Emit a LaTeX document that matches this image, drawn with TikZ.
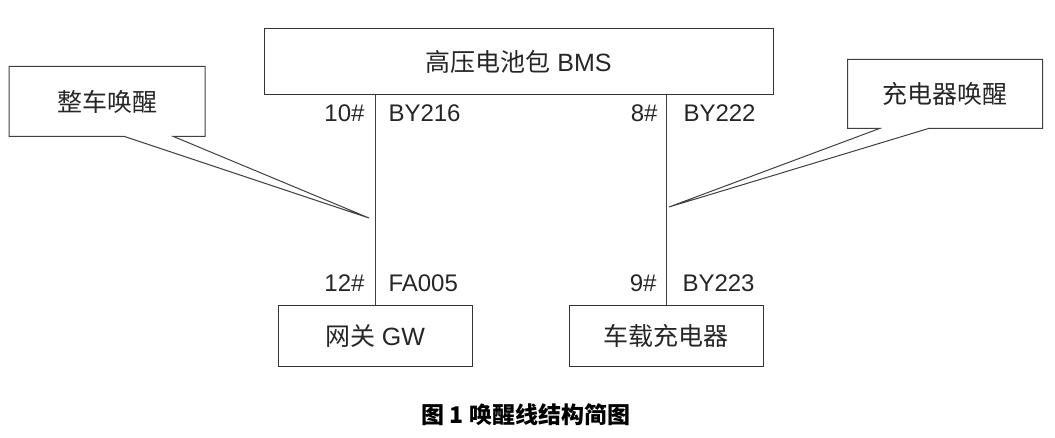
\documentclass[tikz,border=0pt]{standalone}
\usepackage{fontspec}
\setmainfont{Liberation Sans}
\newfontfamily\cjk{Noto Sans CJK SC}
\usetikzlibrary{calc}

\begin{document}
\begin{tikzpicture}[x=1pt, y=-1pt, line width=1pt, black!85,
	box/.style={draw=black!80, inner sep=0pt, font=\fontsize{25}{28}\selectfont},
	wire/.style={draw=black!75},
	lbl/.style={inner sep=0pt, font=\fontsize{24}{26}\selectfont}]
	\useasboundingbox (0,0) rectangle (1055,438);

	% --- Boitiers ---
	\node[box, minimum width=509pt, minimum height=66pt] (bms) at (518.5,62) {{\cjk 高压电池包} BMS};
	\node[box, minimum width=194pt, minimum height=60pt] (gw) at (375,336) {{\cjk 网关} GW};
	\node[box, minimum width=194pt, minimum height=60pt] (obc) at (666,336) {\cjk 车载充电器};

	% --- Lignes de reveil ---
	\coordinate (w1t) at (gw.north |- bms.south);
	\coordinate (w2t) at (obc.north |- bms.south);
	\draw[wire] (w1t) -- (gw.north);
	\draw[wire] (w2t) -- (obc.north);

	% --- Broches ---
	\node[lbl, anchor=base east] (p10) at ([xshift=-10pt, yshift=-26pt]w1t) {10\#};
	\node[lbl, anchor=base west] (c216) at ([xshift=13pt, yshift=-26pt]w1t) {BY216};
	\node[lbl, anchor=base east] (p8) at ([xshift=-8pt, yshift=-26pt]w2t) {8\#};
	\node[lbl, anchor=base west] (c222) at ([xshift=17pt, yshift=-26pt]w2t) {BY222};
	\node[lbl, anchor=base east] (p12) at ([xshift=-10pt, yshift=14pt]gw.north) {12\#};
	\node[lbl, anchor=base west] (c005) at ([xshift=13pt, yshift=14pt]gw.north) {FA005};
	\node[lbl, anchor=base east] (p9) at ([xshift=-9pt, yshift=14pt]obc.north) {9\#};
	\node[lbl, anchor=base west] (c223) at ([xshift=16pt, yshift=14pt]obc.north) {BY223};

	% --- Bulles ---
	\node[box, draw=none, minimum width=195pt, minimum height=69pt] (lw) at (107,101.5) {\cjk 整车唤醒};
	\coordinate (ltip) at (369,218);
	\draw[wire] (lw.south west) -- (lw.north west) -- (lw.north east) -- (lw.south east)
		-- ([xshift=-31.5pt]lw.south east) -- (ltip) -- ([xshift=115.5pt]lw.south west) -- cycle;

	\node[box, draw=none, minimum width=194pt, minimum height=68pt] (rw) at (945,94) {\cjk 充电器唤醒};
	\coordinate (rtip) at (669,207);
	\draw[wire] (rw.south west) -- (rw.north west) -- (rw.north east) -- (rw.south east)
		-- ([xshift=-114pt]rw.south east) -- (rtip) -- ([xshift=32pt]rw.south west) -- cycle;

	% --- Legende ---
	\node[font=\fontsize{23}{26}\selectfont\cjk\bfseries, black] (cap) at (526,415) {图 1 唤醒线结构简图};
\end{tikzpicture}
\end{document}
